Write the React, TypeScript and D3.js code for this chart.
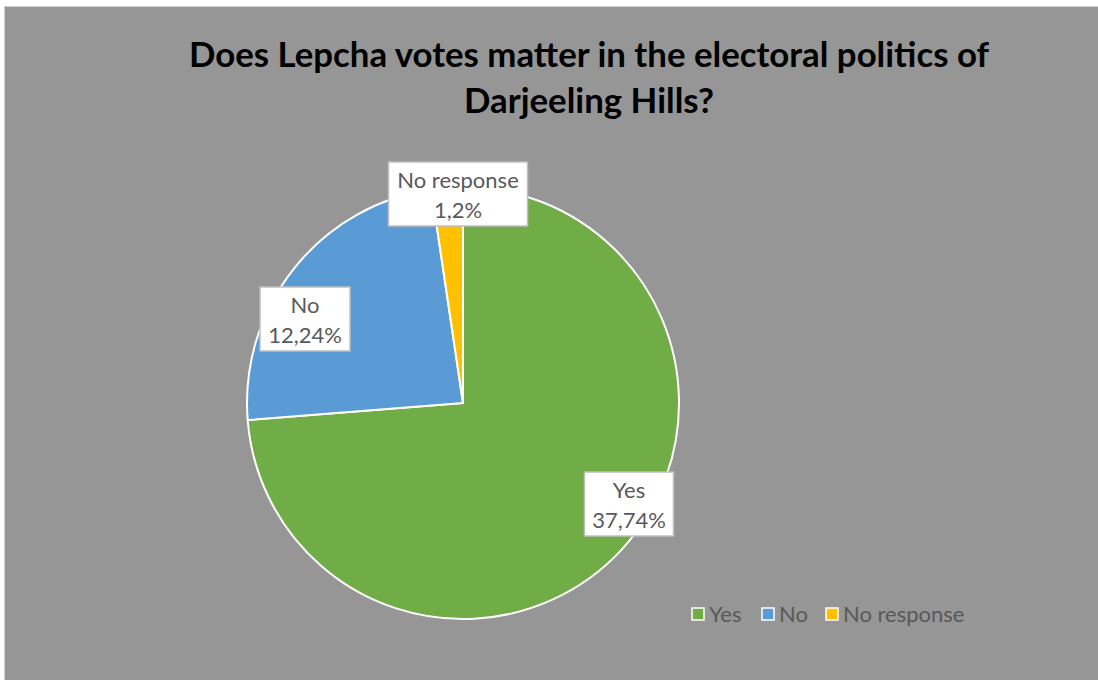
import React from "react";
import * as d3 from "d3";

const categories = ["Yes", "No", "No response"];
const values = [37.74, 12.24, 1.2];
const valueLabels = ["37,74%", "12,24%", "1,2%"];
const colors = ["#70AD47", "#5B9BD5", "#FFC000"];
const titleLines = [
  "Does Lepcha votes matter in the electoral politics of",
  "Darjeeling Hills?",
];

const W = 1098;
const H = 680;
const cx = 463;
const cy = 403;
const R = 216;
// label box centers, relative to pie center (layout)
const labelOffsets: [number, number][] = [
  [166, 101],
  [-158, -84],
  [-5, -209],
];
const labelBoxW = [89, 90, 139];

export default function App() {
  const pie = d3
    .pie<number>()
    .sort(null)
    .value((d) => d)
    .startAngle(0)
    .endAngle(2 * Math.PI);
  const arcs = pie(values);
  const arcGen = d3.arc<d3.PieArcDatum<number>>().innerRadius(0).outerRadius(R);
  const font = "Lato, 'Open Sans', sans-serif";

  const legendX = [692, 762, 826];
  return (
    <svg
      width={W}
      height={H}
      style={{ position: "absolute", left: 0, top: 0 }}
    >
      <rect x={0} y={0} width={W} height={H} fill="#ffffff" />
      <rect x={4.5} y={6.5} width={W} height={H} fill="#969696" stroke="#d0d0d0" strokeWidth={1} />
      {titleLines.map((t, i) => (
        <text
          key={i}
          x={589}
          y={67 + i * 46}
          textAnchor="middle"
          fontFamily={font}
          fontWeight="bold"
          fontSize={34.8}
          fill="#000"
        >
          {t}
        </text>
      ))}
      <g transform={`translate(${cx},${cy})`}>
        {arcs.map((a, i) => (
          <path
            key={i}
            d={arcGen(a) || ""}
            fill={colors[i]}
            stroke="#ffffff"
            strokeWidth={2}
            strokeLinejoin="round"
          />
        ))}
        {arcs.map((a, i) => {
          const [lx, ly] = labelOffsets[i];
          const bw = labelBoxW[i];
          const bh = 64;
          return (
            <g key={"l" + i} transform={`translate(${lx},${ly})`}>
              <rect
                x={-bw / 2}
                y={-bh / 2}
                width={bw}
                height={bh}
                fill="#ffffff"
                stroke="#bfbfbf"
                strokeWidth={1.5}
              />
              <text
                x={0}
                y={-6}
                textAnchor="middle"
                fontFamily={font}
                fontSize={22}
                fill="#595959"
              >
                {categories[i]}
              </text>
              <text
                x={0}
                y={24}
                textAnchor="middle"
                fontFamily={font}
                fontSize={22}
                fill="#595959"
              >
                {valueLabels[i]}
              </text>
            </g>
          );
        })}
      </g>
      {categories.map((c, i) => (
        <g key={"lg" + i}>
          <rect
            x={legendX[i]}
            y={608}
            width={12}
            height={12}
            fill={colors[i]}
            stroke="#ffffff"
            strokeWidth={1.5}
          />
          <text
            x={legendX[i] + 17}
            y={622}
            fontFamily={font}
            fontSize={22}
            fill="#595959"
          >
            {c}
          </text>
        </g>
      ))}
    </svg>
  );
}
